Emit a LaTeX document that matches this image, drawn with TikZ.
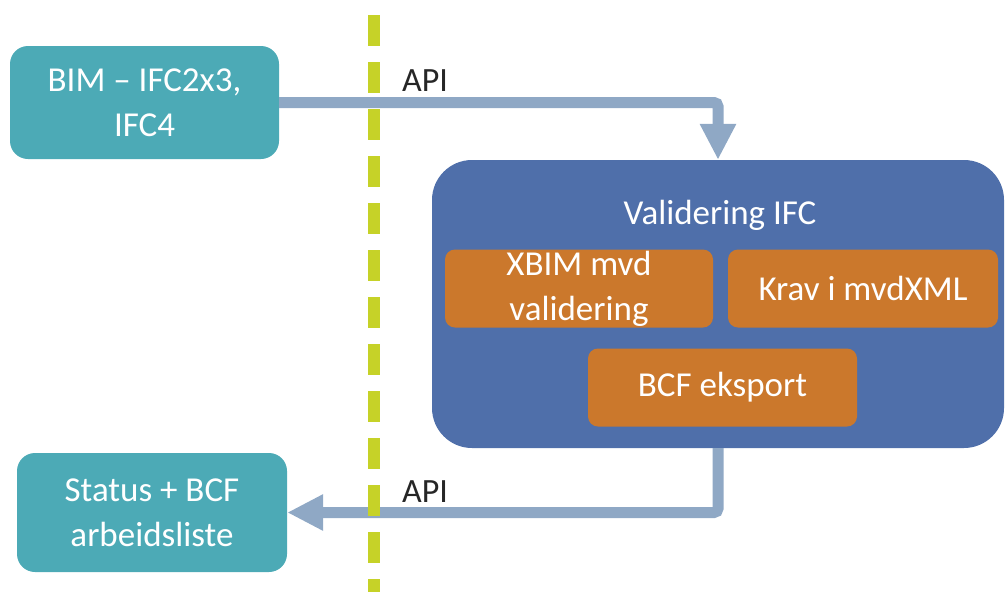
\documentclass[tikz,border=0pt]{standalone}
\usepackage{fontspec}
\setmainfont{Carlito}
\usetikzlibrary{arrows.meta}

\definecolor{bimteal}{RGB}{76,170,182}
\definecolor{valblue}{RGB}{79,111,170}
\definecolor{modorange}{RGB}{203,120,44}
\definecolor{apigrey}{RGB}{143,168,197}
\definecolor{grense}{RGB}{198,210,40}

\def\stor{\fontsize{35}{45}\selectfont}

\begin{document}
\begin{tikzpicture}[x=1pt,y=-1pt,
	boks/.style={rounded corners=18pt,fill=bimteal,text=white,align=center,inner sep=0pt,font=\stor},
	modul/.style={rounded corners=10pt,fill=modorange,text=white,align=center,inner sep=0pt,font=\stor,minimum height=78pt},
	pil/.style={draw=apigrey,line width=11pt,rounded corners=4pt,-{Triangle[width=34pt,length=36pt]}},
	api/.style={text=black!85,font=\fontsize{34}{38}\selectfont}]
\useasboundingbox (0,0) rectangle (1006,592);

% klient
\node[boks,minimum width=269pt,minimum height=113pt] (bim) at (144.5,102.5) {BIM – IFC2x3,\\IFC4};
\node[boks,minimum width=270pt,minimum height=119pt] (status) at (152,512.5) {Status + BCF\\arbeidsliste};

% tjeneste
\node[rounded corners=40pt,fill=valblue,minimum width=572pt,minimum height=288pt] (inn) at (718,304) {};
\node[text=white,font=\stor] (tittel) at (720,215) {Validering IFC};
\foreach \navn/\x/\y/\b/\tekst in {xbim/579/288.5/268/{XBIM mvd\\validering},
                                  krav/863/288.5/270/{Krav i mvdXML},
                                  bcf/722.5/387.5/269/{BCF eksport}}{
	\node[modul,minimum width=\b pt] (\navn) at (\x,\y) {\tekst};
}

% API-kall
\draw[pil] (bim.east) -| (inn.north);
\draw[pil] (inn.south) |- (status.east);
\node[api] (apiinn) at (425,81) {API};
\node[api] (apiut) at (425,492) {API};

% grense
\draw[grense,line width=12pt,dash pattern=on 31pt off 16pt] (374,15) -- (374,592);
\end{tikzpicture}
\end{document}
